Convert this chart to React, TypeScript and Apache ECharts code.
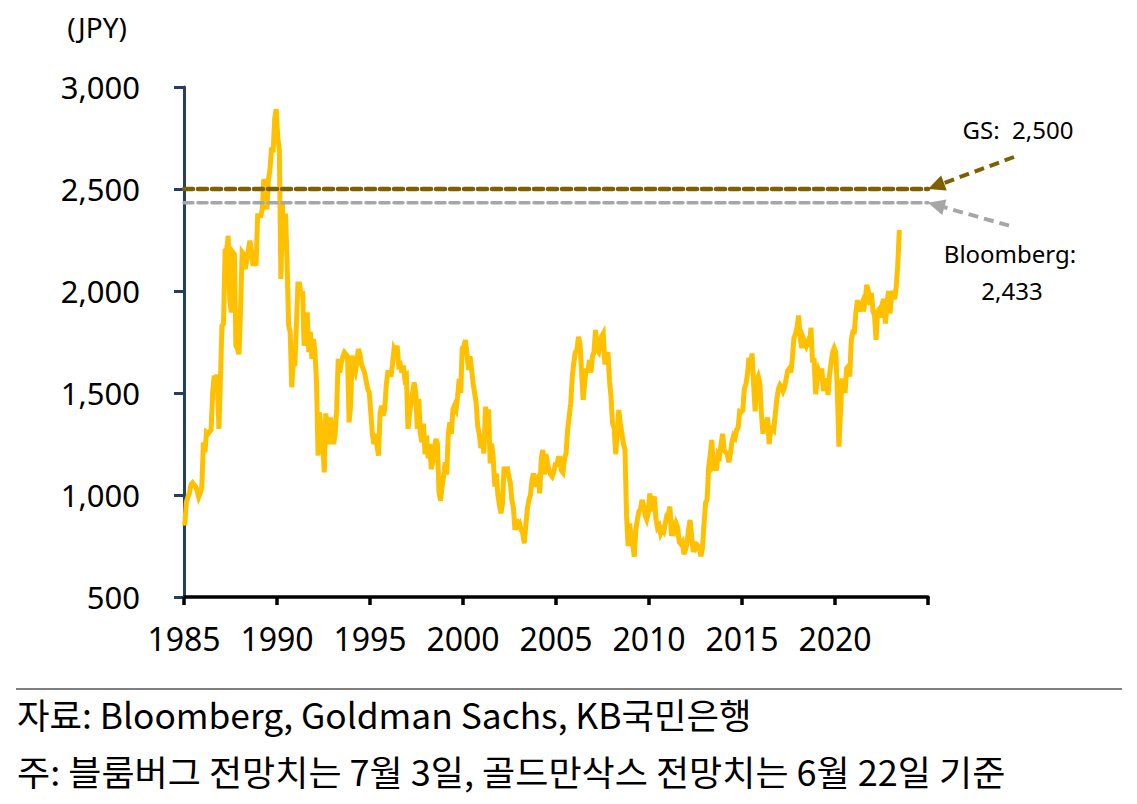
import React, { useEffect, useRef } from "react";
import * as echarts from "echarts";

const START_YEAR = 1985;
const X_MIN = 1985;
const X_MAX = 2025;
const X_TICK = 5;
const Y_MIN = 500;
const Y_MAX = 3000;
const Y_TICK = 500;

const GS_TARGET = 2500;
const BLOOMBERG_TARGET = 2433;

// Monthly index levels (JPY)
const y1985to1989 = [
  850, 965, 990, 1010, 1050, 1060, 1050, 1040, 1020, 990, 1010, 1040,
  1258, 1209, 1307, 1300, 1310, 1320, 1503, 1585, 1560, 1590, 1324, 1569,
  1830, 1840, 2198, 2200, 2271, 1960, 1895, 2190, 2180, 1732, 1716, 1690,
  1912, 2190, 2180, 2108, 2150, 2200, 2247, 2200, 2124, 2150, 2124, 2369,
  2369, 2369, 2400, 2549, 2500, 2400, 2549, 2598, 2704, 2680, 2843, 2892,
];
const y1990to1994 = [
  2753, 2696, 2059, 2435, 2200, 2380, 2141, 1830, 1800, 1528, 1650, 1634,
  1830, 2034, 2034, 1977, 2000, 1732, 1800, 1895, 1700, 1800, 1667, 1765,
  1700, 1552, 1193, 1405, 1300, 1250, 1111, 1400, 1300, 1250, 1380, 1300,
  1250, 1300, 1422, 1667, 1600, 1650, 1680, 1699, 1690, 1680, 1356, 1440,
  1683, 1620, 1601, 1650, 1716, 1690, 1640, 1620, 1600, 1560, 1520, 1503,
];
const y1995to1999 = [
  1405, 1300, 1250, 1300, 1240, 1193, 1400, 1438, 1389, 1420, 1540, 1601,
  1601, 1580, 1640, 1716, 1700, 1732, 1634, 1640, 1600, 1634, 1569, 1580,
  1324, 1400, 1450, 1500, 1552, 1500, 1324, 1471, 1300, 1258, 1350, 1200,
  1291, 1180, 1250, 1127, 1160, 1225, 1275, 1250, 1013, 972, 1040, 1095,
  1160, 1100, 1300, 1356, 1300, 1420, 1438, 1420, 1480, 1569, 1500, 1720,
];
const y2000to2004 = [
  1727, 1760, 1700, 1613, 1680, 1620, 1547, 1500, 1450, 1335, 1300, 1230,
  1260, 1204, 1433, 1350, 1420, 1155, 1253, 1180, 1041, 1106, 1000, 950,
  910, 960, 1139, 1100, 1139, 1090, 1060, 976, 940, 829, 880, 850,
  860, 830, 812, 763, 850, 930, 976, 1000, 1074, 1106, 1040, 1080,
  1090, 1008, 1180, 1221, 1100, 1200, 1155, 1120, 1100, 1090, 1110, 1149,
];
const y2005to2009 = [
  1150, 1180, 1180, 1120, 1110, 1180, 1204, 1320, 1384, 1450, 1580, 1650,
  1700, 1711, 1776, 1740, 1600, 1466, 1550, 1620, 1600, 1662, 1600, 1680,
  1700, 1809, 1710, 1700, 1750, 1780, 1793, 1640, 1678, 1700, 1560, 1480,
  1350, 1330, 1200, 1300, 1417, 1350, 1300, 1250, 1221, 900, 750, 860,
  790, 760, 698, 830, 880, 920, 930, 976, 950, 900, 880, 910,
];
const y2010to2014 = [
  1008, 920, 975, 992, 880, 840, 850, 812, 830, 820, 860, 900,
  910, 943, 800, 850, 830, 860, 840, 770, 760, 770, 710, 730,
  760, 830, 878, 800, 720, 770, 740, 750, 740, 700, 740, 860,
  960, 980, 1139, 1200, 1270, 1140, 1150, 1120, 1200, 1190, 1250, 1300,
  1220, 1210, 1200, 1160, 1200, 1260, 1290, 1280, 1320, 1330, 1410, 1407,
];
const y2015to2019 = [
  1415, 1520, 1543, 1590, 1673, 1630, 1694, 1540, 1410, 1560, 1580, 1547,
  1400, 1300, 1350, 1340, 1380, 1250, 1320, 1330, 1320, 1400, 1470, 1520,
  1540, 1530, 1510, 1530, 1570, 1610, 1620, 1600, 1670, 1770, 1790, 1820,
  1880, 1770, 1720, 1770, 1750, 1730, 1750, 1730, 1820, 1650, 1670, 1494,
  1560, 1610, 1590, 1620, 1510, 1550, 1570, 1490, 1590, 1650, 1700, 1720,
];
const y2020to2023 = [
  1700, 1510, 1237, 1400, 1560, 1560, 1500, 1620, 1630, 1580, 1760, 1800,
  1800, 1900, 1956, 1900, 1920, 1940, 1900, 1960, 2030, 2000, 1930, 1990,
  1900, 1880, 1760, 1900, 1910, 1870, 1940, 1960, 1840, 1930, 2000, 1890,
  1975, 2000, 1960, 2020, 2130, 2299,
];

const monthly = [
  ...y1985to1989,
  ...y1990to1994,
  ...y1995to1999,
  ...y2000to2004,
  ...y2005to2009,
  ...y2010to2014,
  ...y2015to2019,
  ...y2020to2023,
];

const FONT = "'Noto Sans', 'Noto Sans CJK KR', sans-serif";
const KFONT = "'Noto Sans CJK KR', 'Noto Sans', sans-serif";

function arrow(tail: number[], tip: number[], color: string, width: number) {
  const dx = tip[0] - tail[0];
  const dy = tip[1] - tail[1];
  const len = Math.sqrt(dx * dx + dy * dy);
  const ux = dx / len;
  const uy = dy / len;
  const headLen = 17;
  const headHalf = 8;
  const bx = tip[0] - ux * headLen;
  const by = tip[1] - uy * headLen;
  const px = -uy;
  const py = ux;
  return [
    {
      type: "polyline",
      shape: { points: [tail, [bx + ux * 2, by + uy * 2]] },
      style: { stroke: color, lineWidth: width, lineDash: [10, 6], fill: null },
      z: 10,
    },
    {
      type: "polygon",
      shape: {
        points: [
          tip,
          [bx + px * headHalf, by + py * headHalf],
          [bx - px * headHalf, by - py * headHalf],
        ],
      },
      style: { fill: color },
      z: 10,
    },
  ];
}

export default function App() {
  const ref = useRef<HTMLDivElement>(null);

  useEffect(() => {
    if (!ref.current) return;
    const chart = echarts.init(ref.current, null, { renderer: "svg" });
    const lineData = monthly.map((v, i) => [START_YEAR + (i + 0.5) / 12, v]);

    chart.setOption({
      animation: false,
      backgroundColor: "#ffffff",
      grid: { left: 184, right: 209, top: 87, bottom: 207, containLabel: false },
      xAxis: {
        type: "value",
        min: X_MIN,
        max: X_MAX,
        interval: X_TICK,
        axisLine: { show: true, onZero: false, lineStyle: { color: "#000000", width: 3.5 } },
        axisTick: { show: true, length: 8, lineStyle: { color: "#000000", width: 3.5 } },
        axisLabel: {
          margin: 25,
          fontSize: 32,
          color: "#000000",
          fontFamily: FONT,
          formatter: (v: number) => (v === X_MAX ? "" : String(v)),
        },
        splitLine: { show: false },
      },
      yAxis: {
        type: "value",
        min: Y_MIN,
        max: Y_MAX,
        interval: Y_TICK,
        axisLine: { show: true, onZero: false, lineStyle: { color: "#243f60", width: 3 } },
        axisTick: { show: true, length: 10, lineStyle: { color: "#243f60", width: 3 } },
        axisLabel: {
          margin: 44,
          fontSize: 31,
          color: "#000000",
          fontFamily: FONT,
          formatter: (v: number) => v.toLocaleString("en-US"),
        },
        splitLine: { show: false },
      },
      series: [
        {
          type: "line",
          data: lineData,
          showSymbol: false,
          symbol: "none",
          lineStyle: { color: "#FFC000", width: 5, join: "miter" },
          z: 2,
        },
        {
          type: "line",
          data: [
            [X_MIN, BLOOMBERG_TARGET],
            [X_MAX, BLOOMBERG_TARGET],
          ],
          showSymbol: false,
          symbol: "none",
          lineStyle: { color: "#a6a6a6", width: 3.5, type: [9, 5], cap: "round" },
          z: 3,
        },
        {
          type: "line",
          data: [
            [X_MIN, GS_TARGET],
            [X_MAX, GS_TARGET],
          ],
          showSymbol: false,
          symbol: "none",
          lineStyle: { color: "#7f6000", width: 4.5, type: [9, 5], cap: "round" },
          z: 4,
        },
      ],
    });

    const gsTip = chart.convertToPixel({ gridIndex: 0 }, [X_MAX, GS_TARGET]) as number[];
    const bbTip = chart.convertToPixel({ gridIndex: 0 }, [X_MAX, BLOOMBERG_TARGET]) as number[];

    chart.setOption({
      graphic: [
        {
          type: "text",
          x: 97,
          y: 27,
          style: {
            text: "(JPY)",
            fontSize: 28,
            fontFamily: FONT,
            fill: "#000000",
            align: "center",
            verticalAlign: "middle",
          },
        },
        ...arrow([gsTip[0] + 86, gsTip[1] - 32], gsTip, "#7f6000", 4),
        ...arrow([bbTip[0] + 81, bbTip[1] + 23], bbTip, "#a6a6a6", 4),
        {
          type: "text",
          x: 1018,
          y: 129,
          style: {
            text: "GS:  2,500",
            fontSize: 24,
            fontFamily: FONT,
            fill: "#000000",
            align: "center",
            verticalAlign: "middle",
          },
        },
        {
          type: "text",
          x: 1010,
          y: 253,
          style: {
            text: "Bloomberg:",
            fontSize: 24,
            fontFamily: FONT,
            fill: "#000000",
            align: "center",
            verticalAlign: "middle",
          },
        },
        {
          type: "text",
          x: 1012,
          y: 290,
          style: {
            text: "2,433",
            fontSize: 24,
            fontFamily: FONT,
            fill: "#000000",
            align: "center",
            verticalAlign: "middle",
          },
        },
        {
          type: "line",
          shape: { x1: 16, y1: 689, x2: 1122, y2: 689 },
          style: { stroke: "#000000", lineWidth: 1 },
        },
        {
          type: "text",
          x: 17,
          y: 714,
          scaleX: 1.01,
          style: {
            text: "자료: Bloomberg, Goldman Sachs, KB국민은행",
            fontSize: 35,
            fontFamily: KFONT,
            fill: "#000000",
            align: "left",
            verticalAlign: "middle",
          },
        },
        {
          type: "text",
          x: 17,
          y: 771,
          scaleX: 1.03,
          style: {
            text: "주: 블룸버그 전망치는 7월 3일, 골드만삭스 전망치는 6월 22일 기준",
            fontSize: 35,
            fontFamily: KFONT,
            fill: "#000000",
            align: "left",
            verticalAlign: "middle",
          },
        },
      ],
    });

    return () => {
      chart.dispose();
    };
  }, []);

  return (
    <div
      ref={ref}
      style={{ position: "absolute", left: 0, top: 0, width: 1137, height: 804, background: "#fff" }}
    />
  );
}
